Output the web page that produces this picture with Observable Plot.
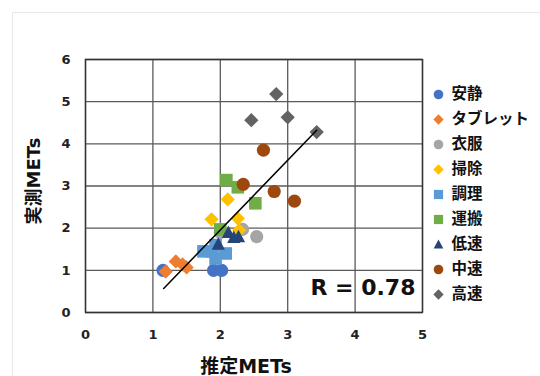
<!DOCTYPE html>
<html><head><meta charset="utf-8">
<script src="https://cdn.jsdelivr.net/npm/d3@7"></script>
<script src="https://cdn.jsdelivr.net/npm/@observablehq/plot@0.6"></script>
<style>
body{margin:0;background:#fff;}
#wrap{position:relative;width:540px;height:376px;overflow:hidden;background:#fff;}
#border{position:absolute;left:12px;top:12px;width:600px;height:500px;border:1px solid #e8e8e8;}
#chart{position:absolute;left:0;top:0;}
</style></head><body>
<div id="wrap"><div id="border"></div><div id="chart"></div></div>
<script>
// categories & styling
const categories = ["安静","タブレット","衣服","掃除","調理","運搬","低速","中速","高速"];
const colors = ["#4472C4","#ED7D31","#A5A5A5","#FFC000","#5B9BD5","#70AD47","#264478","#9E480E","#636363"];
const shapes = ["circle","diamond","circle","diamond","square","square","triangle","circle","diamond"];

// series values (estimated METs x, measured METs y)
const restX = [1.15, 1.90, 2.02];
const restY = [1.00, 1.00, 1.00];
const tabletX = [1.19, 1.34, 1.44, 1.50];
const tabletY = [0.97, 1.21, 1.14, 1.07];
const clothesX = [2.00, 2.33, 2.54];
const clothesY = [1.90, 1.97, 1.80];
const cleanX = [1.87, 2.11, 2.26, 2.28];
const cleanY = [2.21, 2.68, 2.23, 1.95];
const cookX = [1.75, 1.88, 1.93, 1.93, 2.08];
const cookY = [1.45, 1.45, 1.60, 1.28, 1.40];
const carryX = [2.09, 2.26, 2.52, 2.00];
const carryY = [3.14, 2.97, 2.59, 1.97];
const slowX = [1.97, 2.12, 2.20, 2.27];
const slowY = [1.62, 1.90, 1.78, 1.80];
const midX = [2.34, 2.64, 2.80, 3.10];
const midY = [3.04, 3.85, 2.87, 2.64];
const fastX = [2.46, 2.83, 3.00, 3.43];
const fastY = [4.56, 5.18, 4.63, 4.28];

// trend line
const trendX = [1.16, 3.43];
const trendY = [0.57, 4.32];
const rLabel = "R = 0.78";

// ticks & titles
const xTicks = [0, 1, 2, 3, 4, 5];
const yTicks = [0, 1, 2, 3, 4, 5, 6];
const xTitle = "推定METs";
const yTitle = "実測METs";

const seriesX = [restX, tabletX, clothesX, cleanX, cookX, carryX, slowX, midX, fastX];
const seriesY = [restY, tabletY, clothesY, cleanY, cookY, carryY, slowY, midY, fastY];

// custom symbols: size = PI*r^2
const rad = s => Math.sqrt(s / Math.PI);
const symbols = {
  circle: {draw(c, s){ const r = rad(s); c.moveTo(r, 0); c.arc(0, 0, r, 0, 2*Math.PI); c.closePath(); }},
  diamond: {draw(c, s){ const r = rad(s)*1.08; c.moveTo(0,-r); c.lineTo(r,0); c.lineTo(0,r); c.lineTo(-r,0); c.closePath(); }},
  square: {draw(c, s){ const r = rad(s); c.rect(-r,-r,2*r,2*r); }},
  triangle: {draw(c, s){ const r = rad(s); c.moveTo(0,-r*1.05); c.lineTo(r,r*0.85); c.lineTo(-r,r*0.85); c.closePath(); }}
};

const font = '"DejaVu Sans","Noto Sans CJK JP",sans-serif';

const marks = [
  Plot.gridX(xTicks, {stroke:"#5a5a5a", strokeOpacity:1, strokeWidth:1.3}),
  Plot.gridY(yTicks, {stroke:"#5a5a5a", strokeOpacity:1, strokeWidth:1.3}),
  Plot.frame({stroke:"#333", strokeWidth:1.4}),
  Plot.axisX(xTicks, {label:null, tickSize:0, tickPadding:17, fontSize:13, fontWeight:"bold", fill:"#222"}),
  Plot.axisY(yTicks, {label:null, tickSize:0, tickPadding:15, fontSize:13, fontWeight:"bold", fill:"#222"})
];

categories.forEach((cat, i) => {
  const data = seriesX[i].map((x, j) => ({x, y: seriesY[i][j]}));
  marks.push(Plot.dot(data, {x:"x", y:"y", symbol: symbols[shapes[i]], r: shapes[i]==="square"?6.3:6.6, fill: colors[i], stroke:"none"}));
});

marks.push(Plot.line(trendX.map((x, j) => ({x, y: trendY[j]})), {x:"x", y:"y", stroke:"#000", strokeWidth:1.5}));

// legend
categories.forEach((cat, i) => {
  marks.push(Plot.dot([cat], {frameAnchor:"top-left", dx:353, dy:35 + 25*i, symbol: symbols[shapes[i]], r: shapes[i]==="square"?4.6:4.8, fill: colors[i], stroke:"none"}));
  marks.push(Plot.text([cat], {frameAnchor:"top-left", dx:366, dy:35 + 25*i, text: d => d, textAnchor:"start", lineAnchor:"middle", fontSize:15.5, fontWeight:"bold", fill:"#111"}));
});

// R label
marks.push(Plot.text([rLabel], {frameAnchor:"bottom-right", dx:-7, dy:-25, text:d=>d, textAnchor:"end", lineAnchor:"middle", fontSize:22, fontWeight:"bold", fill:"#111"}));

// axis titles
marks.push(Plot.text([xTitle], {frameAnchor:"bottom", dx:-8, dy:54, text:d=>d, textAnchor:"middle", lineAnchor:"middle", fontSize:19, fontWeight:"bold", fill:"#111"}));
marks.push(Plot.text([yTitle], {frameAnchor:"left", dx:-51, dy:-5, rotate:-90, text:d=>d, textAnchor:"middle", lineAnchor:"middle", fontSize:18, fontWeight:"bold", fill:"#111"}));

const chart = Plot.plot({
  width: 540,
  height: 376,
  marginLeft: 85,
  marginRight: 118,
  marginTop: 59,
  marginBottom: 64,
  style: {fontFamily: font, background: "transparent", overflow: "visible"},
  x: {domain:[0,5], label:null},
  y: {domain:[0,6], label:null},
  marks
});
document.getElementById("chart").appendChild(chart);
</script>
</body></html>
